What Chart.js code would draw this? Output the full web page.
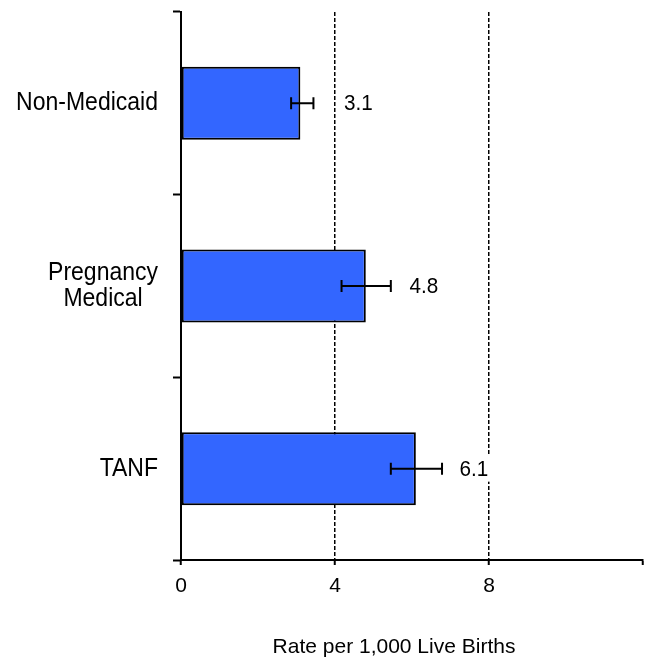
<!DOCTYPE html>
<html>
<head>
<meta charset="utf-8">
<script src="https://cdn.jsdelivr.net/npm/chart.js@4/dist/chart.umd.min.js"></script>
<style>
  html, body { margin: 0; padding: 0; background: #fff; }
  #wrap { width: 647px; height: 658px; }
</style>
</head>
<body>
<div id="wrap"><canvas id="c" width="647" height="658"></canvas></div>
<script>
// Infant rate by payer group, with confidence intervals
const categories = [['Non-Medicaid'], ['Pregnancy', 'Medical'], ['TANF']];
const rates = [3.1, 4.8, 6.1];
const ciLow = [2.86, 4.17, 5.45];
const ciHigh = [3.44, 5.45, 6.78];
const xTickValues = [0, 4, 8, 12];
const xTickLabels = ['0', '4', '8', ''];
const dashedAt = [4, 8];
const axisTitle = 'Rate per 1,000 Live Births';

const FONT = "'Liberation Sans', Arial, sans-serif";
const BAR_BLUE = '#3366FF';

// draws text slightly condensed horizontally
function condensedText(ctx, txt, x, y, sx) {
  ctx.save();
  ctx.translate(x, y);
  ctx.scale(sx, 1);
  ctx.fillText(txt, 0, 0);
  ctx.restore();
}

const overlay = {
  id: 'overlay',
  afterDatasetsDraw(chart) {
    const ctx = chart.ctx;
    const xs = chart.scales.x;
    const meta = chart.getDatasetMeta(0);
    ctx.save();
    // error bars
    ctx.strokeStyle = '#000';
    ctx.lineWidth = 2;
    meta.data.forEach((bar, i) => {
      const y = bar.y;
      const x1 = xs.getPixelForValue(ciLow[i]);
      const x2 = xs.getPixelForValue(ciHigh[i]);
      ctx.beginPath();
      ctx.moveTo(x1, y); ctx.lineTo(x2, y);
      ctx.moveTo(x1, y - 6); ctx.lineTo(x1, y + 6);
      ctx.moveTo(x2, y - 6); ctx.lineTo(x2, y + 6);
      ctx.stroke();
    });
    // value labels with white backing
    ctx.font = '22px ' + FONT;
    ctx.textAlign = 'center';
    ctx.textBaseline = 'middle';
    meta.data.forEach((bar, i) => {
      const txt = rates[i].toFixed(1);
      const cx = xs.getPixelForValue(rates[i]) + 58;
      const w = ctx.measureText(txt).width * 0.94;
      ctx.fillStyle = '#fff';
      ctx.fillRect(cx - w / 2 - 3, bar.y - 13, w + 6, 26);
      ctx.fillStyle = '#000';
      condensedText(ctx, txt, cx, bar.y + 1, 0.94);
    });
    ctx.restore();
  },
  afterDraw(chart) {
    const ctx = chart.ctx;
    const ys = chart.scales.y;
    ctx.save();
    ctx.fillStyle = '#000';
    // category labels: block right-aligned, lines centred within block
    const sx = 0.92;
    ctx.font = '25px ' + FONT;
    ctx.textAlign = 'center';
    ctx.textBaseline = 'middle';
    const rightEdge = ys.right - 23;
    categories.forEach((lines, i) => {
      const yc = ys.getPixelForValue(i);
      const blockW = Math.max(...lines.map(l => ctx.measureText(l).width)) * sx;
      const cx = rightEdge - blockW / 2;
      lines.forEach((l, j) => {
        condensedText(ctx, l, cx, yc + (j - (lines.length - 1) / 2) * 26, sx);
      });
    });
    // axis title
    ctx.font = '21px ' + FONT;
    ctx.textBaseline = 'alphabetic';
    ctx.fillText(axisTitle, 394, 653);
    ctx.restore();
  }
};

new Chart(document.getElementById('c'), {
  type: 'bar',
  data: {
    labels: categories.map(c => c.join(' ')),
    datasets: [{
      data: rates,
      backgroundColor: BAR_BLUE,
      borderColor: '#000',
      borderWidth: 2,
      borderSkipped: false,
      barPercentage: 0.4,
      categoryPercentage: 1
    }]
  },
  options: {
    indexAxis: 'y',
    responsive: false,
    animation: false,
    layout: { padding: { top: 12, right: 4, left: 0, bottom: 0 } },
    plugins: { legend: { display: false }, tooltip: { enabled: false } },
    scales: {
      x: {
        type: 'linear',
        min: 0,
        max: 12,
        afterBuildTicks(scale) { scale.ticks = xTickValues.map(v => ({ value: v })); },
        afterFit(scale) {
          scale.height = 98;
          scale.paddingLeft = 0;
          scale.paddingRight = 0;
        },
        ticks: {
          color: '#000',
          font: { family: FONT, size: 21 },
          padding: 9,
          maxRotation: 0,
          callback: (v) => xTickLabels[xTickValues.indexOf(v)]
        },
        grid: {
          color: (c) => (c.tick && dashedAt.includes(c.tick.value)) ? '#000' : 'rgba(0,0,0,0)',
          lineWidth: 1.5,
          drawTicks: true,
          tickLength: 5,
          tickColor: '#000',
          tickWidth: 2,
          tickBorderDash: []
        },
        border: { display: true, color: '#000', width: 2, dash: [4, 2] }
      },
      y: {
        type: 'category',
        offset: true,
        afterFit(scale) { scale.width = 181; },
        ticks: { display: false },
        grid: {
          offset: true,
          drawOnChartArea: false,
          drawTicks: true,
          tickLength: 8,
          tickColor: '#000',
          tickWidth: 2,
          color: '#000'
        },
        border: { display: true, color: '#000', width: 2 }
      }
    }
  },
  plugins: [overlay]
});
</script>
</body>
</html>
